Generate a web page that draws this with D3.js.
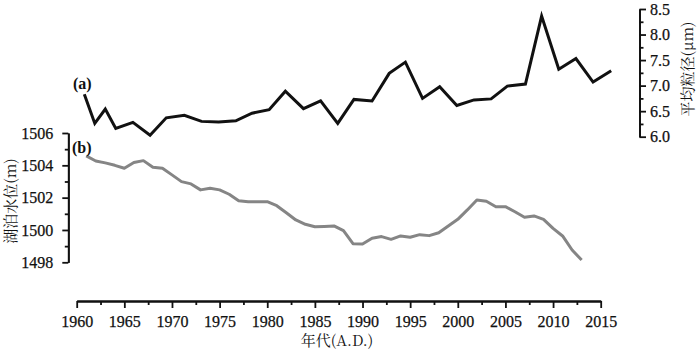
<!DOCTYPE html>
<html lang="zh">
<head>
<meta charset="utf-8">
<script src="https://d3js.org/d3.v7.min.js"></script>
<style>
  body { margin: 0; background: #fff; }
</style>
</head>
<body>
<svg id="chart" width="700" height="354"></svg>
<script>
// (a) mean grain size (years are where the vertices fall)
var grainYears = [1960.8, 1961.9, 1963.0, 1964.1, 1965.9, 1967.7, 1969.4, 1971.3, 1973.1, 1974.9,
                  1976.7, 1978.4, 1980.2, 1981.9, 1983.8, 1985.6, 1987.4, 1989.1, 1991.0, 1992.8,
                  1994.5, 1996.3, 1998.1, 1999.9, 2001.7, 2003.5, 2005.2, 2007.1, 2008.8, 2010.6,
                  2012.4, 2014.2, 2016.1];
var grainSize = [6.83, 6.26, 6.54, 6.16, 6.28, 6.03, 6.37, 6.42, 6.30, 6.29,
                 6.31, 6.46, 6.53, 6.89, 6.55, 6.70, 6.26, 6.73, 6.70, 7.24,
                 7.46, 6.75, 6.98, 6.61, 6.72, 6.74, 6.99, 7.03, 8.36, 7.32,
                 7.53, 7.07, 7.29];

// (b) lake level, 1961-2013
var levelYears = d3.range(1961, 2014);
var lakeLevel = [1504.58, 1504.27, 1504.15, 1504.0, 1503.82, 1504.17, 1504.29, 1503.88, 1503.82, 1503.41,
                 1502.99, 1502.85, 1502.48, 1502.58, 1502.48, 1502.21, 1501.81, 1501.75, 1501.75, 1501.75,
                 1501.5, 1501.07, 1500.62, 1500.35, 1500.2, 1500.22, 1500.25, 1499.96, 1499.15, 1499.13,
                 1499.49, 1499.59, 1499.42, 1499.63, 1499.55, 1499.71, 1499.65, 1499.83, 1500.25, 1500.66,
                 1501.24, 1501.86, 1501.78, 1501.44, 1501.44, 1501.13, 1500.79, 1500.87, 1500.66, 1500.1,
                 1499.63, 1498.76, 1498.14];

var yearTicks = [1960, 1965, 1970, 1975, 1980, 1985, 1990, 1995, 2000, 2005, 2010, 2015];
var levelTicks = [1498, 1500, 1502, 1504, 1506];
var grainTicks = [6.0, 6.5, 7.0, 7.5, 8.0, 8.5];

var serif = "Liberation Serif";
var cjk = "Noto Serif CJK SC";

var svg = d3.select("#chart");

var x = d3.scaleLinear().domain([1960, 2015]).range([76.7, 600.7]);
var yL = d3.scaleLinear().domain([1498, 1506]).range([262.3, 133]);
var yR = d3.scaleLinear().domain([6, 8.5]).range([136.7, 9]);

function styleAxis(g) {
  g.attr("font-family", null).attr("font-size", null);
  g.selectAll("g").attr("font-family", null).attr("font-size", null);
  g.selectAll("path, line").attr("stroke", "#111").attr("stroke-width", 1.8);
  g.selectAll("text")
    .style("font-family", serif).style("font-size", "16px")
    .attr("fill", "#111").attr("stroke", "#111").attr("stroke-width", 0.25);
}

// bottom axis
var gx = svg.append("g").attr("transform", "translate(0,301)");
gx.call(d3.axisBottom(x).tickValues(d3.range(1962.5, 2015, 5)).tickSize(4).tickSizeOuter(0).tickFormat(""));
gx.append("g").call(d3.axisBottom(x).tickValues(yearTicks).tickSize(7).tickSizeOuter(0).tickPadding(8).tickFormat(d3.format("d")));
styleAxis(gx);

// left axis
var gl = svg.append("g").attr("transform", "translate(68.3,0)");
gl.call(d3.axisLeft(yL).tickValues(d3.range(1499, 1506, 2)).tickSize(3.5).tickSizeOuter(0).tickFormat(""));
gl.append("g").call(d3.axisLeft(yL).tickValues(levelTicks).tickSize(6).tickSizeOuter(0).tickPadding(9).tickFormat(d3.format("d")));
styleAxis(gl);

// right axis
var gr = svg.append("g").attr("transform", "translate(639.5,0)");
gr.call(d3.axisRight(yR).tickValues(d3.range(6.25, 8.5, 0.5)).tickSize(4).tickSizeOuter(0).tickFormat(""));
gr.append("g").call(d3.axisRight(yR).tickValues(grainTicks).tickSize(6.5).tickSizeOuter(0).tickPadding(4).tickFormat(d3.format(".1f")));
styleAxis(gr);

// lines
var lineA = d3.line().x(function(d, i) { return x(grainYears[i]); }).y(function(d) { return yR(d); });
var lineB = d3.line().x(function(d, i) { return x(levelYears[i]); }).y(function(d) { return yL(d); });

svg.append("path").datum(lakeLevel).attr("d", lineB)
  .attr("fill", "none").attr("stroke", "#858585").attr("stroke-width", 3).attr("stroke-linejoin", "round");
svg.append("path").datum(grainSize).attr("d", lineA)
  .attr("fill", "none").attr("stroke", "#111").attr("stroke-width", 3).attr("stroke-linejoin", "miter");

// labels
svg.append("text").attr("x", 73).attr("y", 89).style("font-family", serif).style("font-size", "16px")
  .style("font-weight", "bold").attr("fill", "#111").text("(a)");
svg.append("text").attr("x", 72).attr("y", 153).style("font-family", serif).style("font-size", "16px")
  .style("font-weight", "bold").attr("fill", "#111").text("(b)");

svg.append("text").style("font-family", cjk).style("font-size", "15px").attr("fill", "#111")
  .attr("text-anchor", "middle")
  .attr("transform", "translate(16,201) rotate(-90)").text("湖泊水位(m)");
svg.append("text").style("font-family", cjk).style("font-size", "15px").attr("fill", "#111")
  .attr("text-anchor", "middle")
  .attr("transform", "translate(693,69) rotate(-90)").text("平均粒径(μm)");
svg.append("text").style("font-family", cjk).style("font-size", "15px").attr("fill", "#111")
  .attr("text-anchor", "middle")
  .attr("x", 337).attr("y", 346).text("年代(A.D.)");
</script>
</body>
</html>
